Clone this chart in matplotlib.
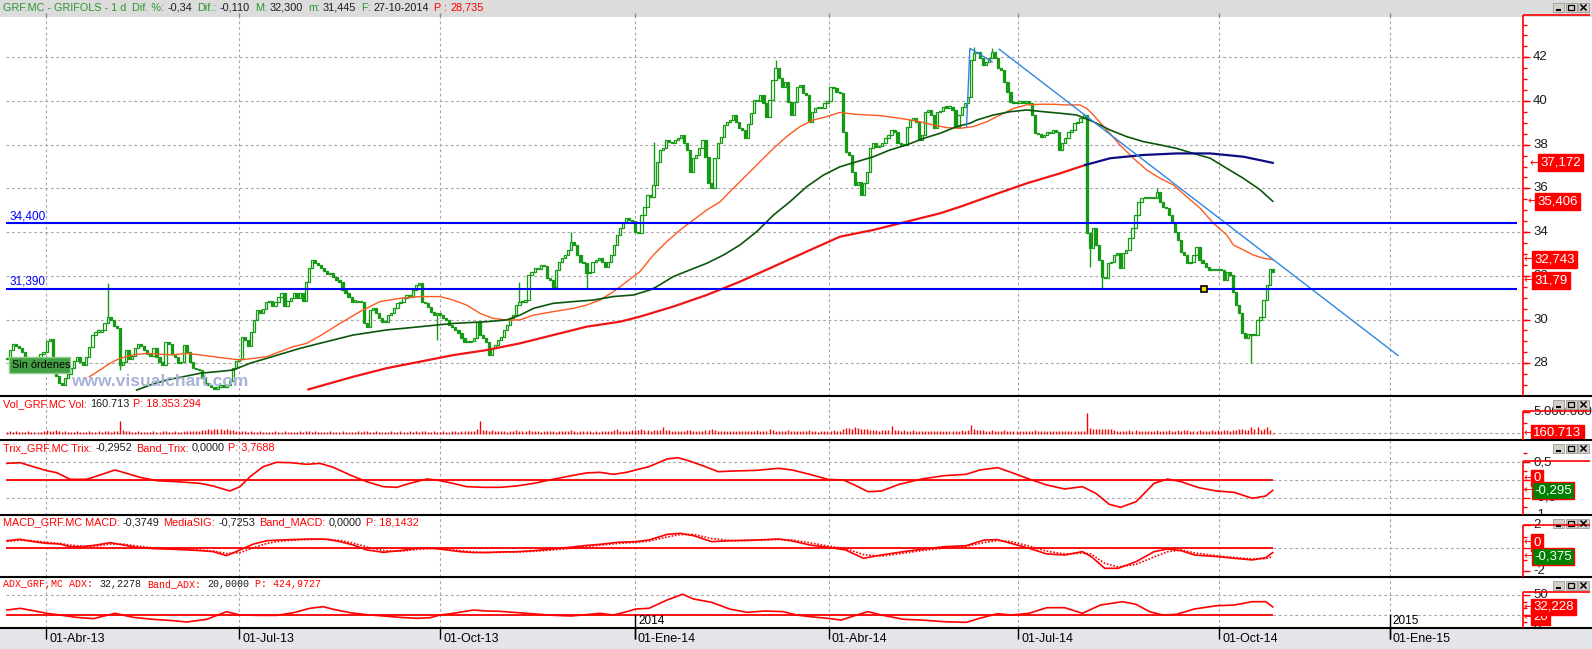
import numpy as np
import matplotlib
matplotlib.use("Agg")
import matplotlib.pyplot as plt
from matplotlib.patches import Rectangle

plt.rcParams["font.family"] = ["Liberation Sans", "DejaVu Sans"]

# ---------------- data (bar index = trading day, 0 = mid March 2013, 415 = 27-10-2014)
closes = [
    28.2, 28.6, 28.9, 28.8, 28.7, 28.5, 28.3, 28.1, 28.0, 27.9, 28.1, 28.4, 28.5, 29.0, 29.1, 28.2,
    27.4, 27.1, 27.0, 27.3, 27.5, 27.8, 28.1,
    28.30, 28.07, 27.9, 28.3, 28.75, 29.3, 29.45, 29.45, 29.5, 29.85,
    30.1, 30.0, 29.7, 29.6, 27.9, 28.07, 28.6, 28.2, 28.35, 28.7,
    28.9, 28.8, 28.6, 28.4, 28.35, 28.7, 28.3, 28.07, 27.9, 28.97,
    28.9, 28.4, 28.3, 28.0, 28.07, 28.83, 28.5, 28.07, 27.8, 27.75, 27.7,
    27.3, 27.1, 27.0, 26.9, 26.8, 26.9, 27.0, 26.9, 27.0, 27.2, 27.77, 28.1, 28.2,
    29.2, 29.05, 28.8, 29.45, 30.0, 30.43, 30.3, 30.5, 30.8, 30.85,
    30.6, 30.8, 31.05, 31.2, 30.6, 30.85, 31.0, 31.2, 31.0, 31.2,
    30.85, 31.73, 32.36, 32.73, 32.6, 32.5, 32.36, 32.2, 32.1,
    32.11, 31.96, 31.81, 31.73, 31.35, 31.2, 31.05, 30.82, 30.82, 30.79,
    30.8, 29.82, 29.67, 30.43, 30.51, 30.28, 30.05, 29.9, 29.9, 30.2,
    30.28, 30.51, 30.74, 30.8, 30.97, 31.12, 31.05, 31.35, 31.58, 31.65,
    30.82, 30.74, 30.59, 30.36, 30.2, 30.28,
    30.2, 30.05, 29.98, 29.75, 29.67, 29.52, 29.37, 29.14, 28.99, 28.97,
    29.02, 29.14, 29.9, 29.29, 29.14, 28.99, 28.37, 28.68, 28.83, 29.06,
    29.21, 29.52, 29.75, 30.05, 30.2, 30.66, 30.82, 30.8, 30.89, 32.04,
    32.19, 32.34, 32.3, 32.49, 32.45, 31.88, 31.81, 31.5, 32.27, 32.65,
    32.8, 32.95, 33.18, 33.56, 33.41, 32.95, 32.65, 32.57, 32.11, 32.19,
    32.65, 32.72, 32.8, 32.65, 32.42, 32.65, 32.95, 33.41, 33.87, 34.17,
    34.48, 34.63, 34.55, 34.5, 34.02, 33.94, 34.78, 35.16, 35.7,
    35.62, 36.16, 37.22, 37.76, 37.83, 38.21, 38.14, 38.06, 38.21, 38.29,
    38.44, 38.06, 37.76, 36.77, 37.38, 37.53, 37.83, 38.21, 37.45, 36.23,
    36.0, 37.38, 38.06, 38.37, 38.9, 39.05, 39.13, 39.36, 39.05, 38.75,
    38.67, 38.29, 38.93, 39.44, 40.05, 40.0, 40.27, 39.89, 39.28, 40.05,
    40.96, 41.5, 41.04, 40.66, 40.89, 39.97, 39.36, 39.97, 40.66, 40.73,
    40.35, 40.27, 39.05, 39.51, 39.66, 39.74, 39.66, 39.89, 40.0, 40.66,
    40.6, 40.43, 40.35, 38.6, 37.68, 37.53, 36.77, 36.16, 36.31, 35.7,
    36.23, 36.77, 37.83, 38.06, 37.91, 37.95, 38.06, 38.29, 38.44, 38.67,
    38.6, 38.06, 37.99, 38.0, 38.82, 39.13, 39.21, 39.05, 38.21, 38.44,
    39.51, 39.59, 39.36, 38.75, 39.51, 39.55, 39.74, 39.7, 39.72, 39.59,
    38.82, 39.36, 39.74, 39.89, 40.2,
    41.88, 42.18, 42.26, 41.95, 41.65, 41.8, 41.95, 42.26, 41.95, 41.5,
    41.42, 40.89, 40.43, 39.97, 39.89, 39.93, 40.0, 39.93, 40.0, 39.89,
    39.36, 38.52, 38.5, 38.37, 38.44, 38.57, 38.55, 38.67, 38.57, 37.76,
    38.06, 38.29, 38.6, 38.67, 38.98, 39.05, 39.2, 39.36, 33.94, 33.26,
    34.17, 33.41, 32.72, 31.96, 31.88, 32.57, 32.65, 32.95, 33.03, 32.34,
    33.03, 33.18, 33.71, 34.17, 34.78, 35.39, 35.55, 35.62, 35.55, 35.62,
    35.55, 35.85, 35.39, 35.16, 35.09, 34.78, 34.48, 34.02, 33.64, 33.1,
    32.95, 32.57, 32.65, 32.95, 33.33, 32.72, 32.57, 32.42, 32.27, 32.3,
    32.25, 32.3, 32.27, 31.81, 32.19, 32.04, 31.27, 30.66, 30.28, 29.37,
    29.14, 29.35, 29.29, 29.3, 29.98, 30.13, 30.89, 31.58, 32.3, 32.19,
]

# daily volume, hundreds of thousands of shares
volumes = [
    5, 6, 5, 7, 5, 4, 5, 6, 5, 5, 4, 5, 6, 8, 6, 7, 8, 6, 5, 6,
    5, 4, 5, 6, 5, 5, 4, 6, 5, 5, 6, 5, 7, 6, 5, 6, 7, 30, 9, 7,
    6, 5, 5, 6, 5, 4, 5, 5, 6, 5, 5, 6, 7, 5, 5, 6, 5, 5, 7, 6,
    6, 7, 6, 7, 9, 10, 11, 10, 12, 11, 12, 10, 11, 9, 8, 7, 6, 7, 6, 5,
    6, 5, 5, 6, 5, 5, 4, 5, 6, 5, 5, 6, 5, 4, 5, 5, 6, 5, 7, 6,
    5, 6, 5, 5, 4, 5, 6, 5, 5, 5, 6, 5, 5, 4, 5, 6, 5, 7, 6, 5,
    5, 6, 5, 4, 5, 5, 6, 5, 5, 6, 5, 5, 6, 5, 6, 5, 7, 6, 5, 5,
    6, 5, 5, 6, 5, 5, 6, 6, 5, 6, 7, 6, 6, 7, 12, 30, 9, 8, 7, 8,
    6, 6, 7, 6, 5, 6, 7, 8, 6, 6, 7, 9, 7, 6, 6, 5, 6, 7, 6, 6,
    5, 6, 6, 7, 6, 8, 6, 5, 6, 6, 7, 6, 5, 6, 5, 6, 6, 7, 6, 8,
    11, 7, 6, 7, 6, 8, 10, 9, 11, 10, 9, 7, 8, 9, 10, 17, 9, 8, 7, 7,
    6, 7, 6, 8, 9, 7, 6, 6, 7, 8, 9, 11, 8, 7, 6, 6, 7, 6, 6, 7,
    6, 6, 7, 6, 7, 6, 8, 7, 6, 6, 11, 8, 7, 6, 7, 6, 8, 7, 6, 7,
    6, 6, 7, 8, 6, 6, 5, 6, 7, 6, 7, 8, 6, 7, 12, 14, 13, 12, 15, 13,
    12, 11, 12, 10, 9, 8, 7, 9, 8, 10, 19, 9, 8, 7, 8, 7, 7, 8, 7, 6,
    6, 7, 6, 6, 7, 6, 6, 7, 6, 6, 7, 6, 7, 8, 6, 8, 21, 11, 9, 8,
    8, 7, 7, 8, 7, 6, 7, 8, 7, 6, 6, 7, 6, 7, 6, 6, 7, 8, 7, 7,
    6, 7, 6, 6, 7, 6, 7, 6, 6, 7, 6, 6, 7, 6, 47, 13, 12, 12, 11, 12,
    11, 12, 11, 8, 7, 7, 6, 7, 8, 7, 8, 6, 7, 6, 7, 6, 7, 8, 6, 7,
    7, 8, 6, 7, 8, 7, 9, 8, 7, 6, 7, 8, 7, 7, 6, 8, 7, 8, 7, 8,
    8, 7, 9, 10, 12, 11, 10, 9, 17, 11, 15, 10, 12, 17, 8, 2,
]

# notable wick extremes
wick_idx = [33, 37, 141, 168, 185, 190, 212, 252, 317, 323, 355, 359, 377, 408]
wick_val = [31.67, 27.7, 29.06, 31.73, 34.02, 31.43, 38.14, 41.88, 42.45, 42.41, 32.42, 31.43, 36.0, 27.99]

# moving averages
ma_fast_idx = [27, 30.5, 33.8, 37, 41.4, 45.8, 50.2, 54.5, 58.9, 63.3, 67.6, 72, 76.4, 80.8, 85.2, 89.5,
               93.9, 98.3, 102.6, 109.2, 115.7, 122.3, 128.9, 135.4, 142, 146.3, 150.7, 155.1, 159.4,
               163.8, 168.2, 172.6, 179.1, 185.7, 190, 194.4, 198.8, 203.2, 207.5, 211.9, 216.3, 220.7,
               225, 229.4, 233.8, 238.1, 242.5, 246.9, 251.3, 255.6, 260, 264.4, 268.7, 273.1, 277.5,
               281.9, 286.2, 290.6, 295, 299.3, 303.7, 308.1, 312.5, 316.8, 321.2, 325.6, 330, 334.3,
               338.7, 343.1, 347.5, 351.8, 354, 356.2, 360.6, 364.9, 369.3, 373.7, 378.1, 382.4, 386.8,
               391.2, 395.6, 399.9, 402.1, 405.4, 408.7, 412, 415]
ma_fast_val = [27.38, 27.69, 28.0, 28.22, 28.38, 28.45, 28.41, 28.38, 28.45, 28.38, 28.3, 28.22, 28.15,
               28.22, 28.3, 28.53, 28.76, 28.91, 29.25, 29.82, 30.36, 30.82, 30.97, 31.05, 31.05, 30.89,
               30.66, 30.28, 30.05, 29.98, 29.98, 30.2, 30.36, 30.51, 30.66, 30.89, 31.27, 31.73, 32.19,
               32.95, 33.56, 34.1, 34.55, 35.01, 35.39, 36.0, 36.61, 37.22, 37.83, 38.37, 38.83, 39.13,
               39.28, 39.48, 39.4, 39.36, 39.33, 39.25, 39.16, 39.05, 38.9, 38.78, 38.75, 38.83, 39.05,
               39.36, 39.66, 39.82, 39.85, 39.85, 39.82, 39.82, 39.66, 39.36, 38.67, 37.99, 37.38, 36.84,
               36.46, 36.16, 35.62, 35.09, 34.4, 33.87, 33.41, 33.18, 32.95, 32.8, 32.74]

ma_mid_idx = [42.5, 46.9, 52.3, 57.8, 63.3, 68.7, 74.2, 79.7, 85.1, 90.6, 96.1, 102.6, 113.5, 124.4,
              135.4, 146.3, 157.2, 163.8, 168.2, 172.6, 179.1, 185.7, 192.2, 198.8, 205.3, 210.8, 213,
              218.4, 223.9, 229.4, 234.9, 240.3, 245.8, 251.3, 256.7, 262.2, 267.7, 273.1, 278.6, 284.1,
              289.5, 295, 300.5, 305.9, 311.4, 315.7, 318, 323.4, 328.9, 334.3, 339.8, 345.3, 350.7,
              356.2, 361.7, 367.1, 372.6, 378.1, 383.5, 389, 394.5, 399.9, 405.4, 410.9, 415]
ma_mid_val = [26.77, 27.0, 27.23, 27.38, 27.54, 27.61, 27.69, 28.0, 28.22, 28.45, 28.68, 28.91, 29.29,
              29.52, 29.67, 29.82, 29.9, 29.98, 30.2, 30.51, 30.74, 30.82, 30.89, 31.05, 31.12, 31.35,
              31.5, 31.96, 32.27, 32.57, 32.95, 33.41, 34.02, 34.78, 35.39, 36.08, 36.61, 36.99, 37.22,
              37.45, 37.76, 37.99, 38.29, 38.52, 38.83, 38.98, 39.13, 39.36, 39.51, 39.59, 39.51, 39.44,
              39.36, 39.05, 38.67, 38.37, 38.14, 37.99, 37.83, 37.6, 37.38, 36.92, 36.46, 35.93, 35.41]

ma_slow_idx = [98.8, 102.6, 113.5, 124.4, 135.4, 146.3, 157.2, 168.2, 179.1, 190, 201, 207.5, 218.4,
               229.4, 240.3, 251.3, 262.2, 273.1, 284.1, 295, 305.9, 312.5, 323.4, 334.3, 345.3, 353.5]
ma_slow_val = [26.8, 26.95, 27.38, 27.77, 28.07, 28.37, 28.6, 28.91, 29.29, 29.67, 29.9, 30.13, 30.59,
               31.12, 31.73, 32.42, 33.11, 33.79, 34.1, 34.48, 34.86, 35.16, 35.7, 36.23, 36.69, 37.07]
ma_slow_dn_idx = [353.5, 361.7, 372.6, 383.5, 394.5, 405.4, 415]
ma_slow_dn_val = [37.07, 37.38, 37.53, 37.6, 37.6, 37.45, 37.17]

# drawn objects
trend_idx = [325.3, 456.1]
trend_val = [42.37, 28.35]
trend2_idx = [314.6, 315.7, 322.95]
trend2_val = [38.82, 42.41, 41.8]
levels = [34.4, 31.39]
level_labels = ["34,400", "31,390"]
order_idx, order_val = 392.5, 31.39

# indicators
trix_idx = [0, 4.3, 8.6, 13, 16.3, 20.7, 26.1, 30.5, 35.4, 39.2, 43.6, 49.1, 55.6, 63.3, 67.6, 73.1,
            76.4, 79.7, 84, 88.4, 92.8, 98.3, 102.6, 107, 112.5, 117.9, 123.4, 127.8, 132.1, 137.6,
            140.9, 145.2, 150.7, 156.2, 161.6, 167, 173, 179, 185, 190, 194.4, 198.8, 203.2, 206.1,
            210.5, 216.4, 220, 223.7, 228.1, 233.2, 238.3, 245.7, 253, 257.4, 263.2, 269.1, 274.2,
            277.9, 282.3, 286.7, 292.5, 299.9, 307.2, 314.5, 318.9, 324.8, 329.2, 335.1, 340.9, 346.8,
            352.6, 357, 361.4, 365.1, 370.2, 376.1, 380.5, 384.9, 390.7, 396.6, 402.4, 408.3, 412.7, 415]
trix_val = [0.47, 0.49, 0.377, 0.264, 0.207, 0.019, 0.019, 0.141, 0.283, 0.188, 0.075, -0.019, -0.047,
            -0.094, -0.17, -0.311, -0.188, 0.094, 0.377, 0.5, 0.49, 0.443, 0.47, 0.358, 0.141, -0.047,
            -0.188, -0.207, -0.094, 0.028, 0.0, -0.075, -0.188, -0.207, -0.207, -0.17, -0.09, 0.02,
            0.12, 0.2, 0.217, 0.16, 0.217, 0.283, 0.377, 0.593, 0.631, 0.537, 0.405, 0.235, 0.254,
            0.273, 0.33, 0.283, 0.16, 0.019, 0.0, -0.141, -0.33, -0.311, -0.122, 0.028, 0.122, 0.16,
            0.283, 0.349, 0.217, 0.028, -0.141, -0.254, -0.188, -0.377, -0.687, -0.772, -0.612, -0.094,
            0.028, -0.047, -0.216, -0.311, -0.349, -0.518, -0.452, -0.295]

macd_idx = [0, 4.3, 8.6, 13, 17.4, 20.7, 25, 29.4, 33.8, 38.1, 42.5, 48, 55.6, 63.3, 67.6, 72, 76.4,
            80.8, 85.2, 89.5, 96.1, 100.4, 104.8, 109.2, 113.5, 117.9, 123.4, 128.9, 134.3, 139.8,
            144.2, 148.5, 152.9, 157.3, 161.6, 167, 173, 179, 185, 190, 194.4, 200.3, 206.1, 210.5,
            216.4, 220.7, 225.1, 231, 238.3, 245.7, 253, 257.4, 263.2, 269.1, 274.9, 280.8, 286.7, 294,
            299.9, 307.2, 314.5, 320.4, 324.8, 329.2, 335.1, 340.9, 346.8, 352.6, 355.5, 359.9, 364.3,
            370.2, 376.1, 380.5, 384.9, 389.3, 396.6, 402.4, 408.3, 412.7, 415]
macd_val = [0.66, 0.78, 0.58, 0.43, 0.37, 0.14, 0.14, 0.29, 0.49, 0.29, 0.08, -0.03, -0.09, -0.2, -0.29,
            -0.64, -0.14, 0.37, 0.66, 0.72, 0.78, 0.81, 0.78, 0.58, 0.29, -0.14, -0.35, -0.2, 0.0, 0.0,
            -0.14, -0.29, -0.37, -0.37, -0.32, -0.3, -0.2, -0.05, 0.1, 0.25, 0.345, 0.52, 0.58, 0.72,
            1.21, 1.3, 1.1, 0.58, 0.67, 0.72, 0.81, 0.64, 0.29, 0.09, -0.14, -0.87, -0.58, -0.29, -0.09,
            0.14, 0.23, 0.72, 0.75, 0.43, 0.0, -0.49, -0.58, -0.29, -0.72, -1.74, -1.74, -1.16, -0.29,
            -0.06, -0.2, -0.58, -0.72, -0.87, -1.01, -0.81, -0.375]
macd_sig = [0.6, 0.7, 0.65, 0.52, 0.42, 0.28, 0.18, 0.2, 0.36, 0.36, 0.2, 0.04, -0.05, -0.15, -0.24,
            -0.45, -0.38, 0.05, 0.42, 0.62, 0.74, 0.78, 0.79, 0.68, 0.45, 0.12, -0.2, -0.26, -0.1,
            -0.02, -0.08, -0.2, -0.32, -0.36, -0.35, -0.32, -0.26, -0.14, 0.0, 0.15, 0.27, 0.42, 0.52,
            0.63, 0.98, 1.2, 1.2, 0.85, 0.65, 0.7, 0.77, 0.72, 0.48, 0.2, -0.02, -0.55, -0.68, -0.42,
            -0.2, 0.02, 0.18, 0.5, 0.68, 0.58, 0.2, -0.25, -0.5, -0.42, -0.5, -1.3, -1.62, -1.4, -0.75,
            -0.3, -0.15, -0.4, -0.65, -0.8, -0.93, -0.9, -0.725]

adx_idx = [0, 4.3, 8.6, 13, 17.4, 22.8, 28.3, 35.4, 41.4, 48, 54.5, 58.9, 65.5, 72, 76.4, 83, 88.4,
           93.9, 99.3, 103.7, 107, 112.5, 117.9, 123.4, 128.9, 134.3, 138.7, 142, 146.3, 152.9, 157.3,
           161.6, 167, 173, 179, 185, 190, 194.4, 198.8, 203.2, 206.1, 210.5, 216.4, 221.5, 225.1, 231,
           236.9, 242.7, 248.6, 254.5, 258.9, 263.2, 269.1, 273.5, 277.9, 282.3, 286.7, 294, 299.9,
           307.2, 314.5, 318.9, 324.8, 329.2, 335.1, 340.9, 346.8, 352.6, 358.5, 365.8, 370.2, 374.6,
           379, 383.4, 389.3, 396.6, 402.4, 408.3, 412.7, 415]
adx_val = [27.7, 30.2, 26.8, 22.9, 20.4, 17, 15.1, 22.9, 17, 14.1, 12.2, 10.2, 14.1, 25.3, 20.4, 19.9,
           19.9, 23.8, 30.2, 32.6, 28.7, 23.8, 20.9, 19, 17, 15.6, 16.5, 20.4, 22.9, 27.7, 26.3, 25.8,
           24, 22, 20, 19, 21, 22.9, 20.4, 25.3, 29.2, 30.2, 42.3, 50.7, 43.8, 39, 29.2, 24.3, 26.3,
           25.3, 20.4, 18, 15.6, 13.1, 19.4, 25.3, 20.4, 14.1, 13.1, 10.7, 9.7, 15.6, 22.4, 20.4, 22.9,
           31.1, 31.1, 22.9, 35, 39.9, 36, 25.3, 20.4, 21.4, 29.2, 34, 35, 39.9, 39.9, 32.23]

quarter_pos = [12.8, 76.1, 142.0, 205.9, 269.5, 331.5, 397.4, 453.4]
quarter_lbl = ["01-Abr-13", "01-Jul-13", "01-Oct-13", "01-Ene-14", "01-Abr-14", "01-Jul-14",
               "01-Oct-14", "01-Ene-15"]

# ---------------- layout
W, H = 1592, 649
X0, DX = 7.0, 3.05
GREEN = "#169a16"
RED = "#ff0000"
GRID = "#a9a5ad"
DARK = "#1c1c24"
HGREEN = "#2c962c"
AXIS_PX = 1522.7


def ix(px):
    return (px - X0) / DX


fig = plt.figure(figsize=(W / 100, H / 100), dpi=100)
fig.patch.set_facecolor("white")
rend = fig.canvas.get_renderer()


def panel(top, bot, f):
    ax = fig.add_axes([0, 1 - bot / H, 1, (bot - top) / H])
    ax.set_xlim(ix(0), ix(W))
    ax.set_ylim(f(bot), f(top))
    ax.axis("off")
    for q in quarter_pos:
        ax.axvline(q, color=GRID, lw=0.8, ls=(0, (2.5, 2.5)), zorder=0)
    return ax


def hgrid(ax, vals):
    ax.hlines(vals, ix(6), ix(AXIS_PX), color=GRID, lw=0.8, ls=(0, (2.5, 2.5)), zorder=0)


def rticks(ax, major, minor, labels):
    ax.hlines(minor, ix(AXIS_PX), ix(1526.5), color=RED, lw=1, zorder=5)
    ax.hlines(major, ix(AXIS_PX), ix(1530), color=RED, lw=1, zorder=5)
    for v, s in zip(major, labels):
        if s:
            ax.text(ix(1533), v, s, fontsize=9.5, color=DARK, va="center", ha="left",
                    clip_on=True, zorder=6)


def vbox(ax, v, s, fc, xpx, arrow_px=1524):
    ax.text(ix(arrow_px), v, "\u2190", fontsize=8, color=RED, va="center", ha="left",
            family="DejaVu Sans", zorder=7, clip_on=True)
    ax.text(ix(xpx), v, s, fontsize=9.5, color="white", va="center", ha="left", zorder=8,
            clip_on=True, bbox=dict(boxstyle="square,pad=0.18", fc=fc, ec=RED, lw=1))


# price panel
pv = lambda y: 42 - (y - 57.3) / 21.85
axp = panel(17, 396, pv)
hgrid(axp, np.arange(28, 43, 2))
c = np.array(closes)
o = np.r_[c[0], c[:-1]]
x = np.arange(len(c))
lo, hi = np.minimum(o, c), np.maximum(o, c)
hgt = np.maximum(hi - lo, 0.05)
for j, v in zip(wick_idx, wick_val):
    axp.vlines(j, min(v, lo[j]), max(v, hi[j]), color=GREEN, lw=1, zorder=3)
up = c >= o
axp.bar(x[up], hgt[up], bottom=lo[up], width=0.75, facecolor="white", edgecolor=GREEN,
        linewidth=0.9, zorder=4)
axp.bar(x[~up], hgt[~up], bottom=lo[~up], width=0.75, facecolor=GREEN, edgecolor=GREEN,
        linewidth=0.9, zorder=4)
axp.plot(ma_fast_idx, ma_fast_val, color="#ff5a1e", lw=1.0, zorder=5)
axp.plot(ma_mid_idx, ma_mid_val, color="#0c560c", lw=1.2, zorder=5)
axp.plot(ma_slow_idx, ma_slow_val, color="#f01414", lw=1.6, zorder=5)
axp.plot(ma_slow_dn_idx, ma_slow_dn_val, color="#0c0c82", lw=1.6, zorder=5)
axp.plot(trend_idx, trend_val, color="#2f86e0", lw=1.0, zorder=6)
axp.plot(trend2_idx, trend2_val, color="#2f86e0", lw=1.0, zorder=6)
axp.hlines(levels, ix(6), ix(1517), color="#0000ff", lw=1.5, zorder=6)
for lv, s in zip(levels, level_labels):
    axp.text(ix(10), lv + 0.33, s, fontsize=8.5, color="#0000ff", va="center", ha="left")
axp.plot(order_idx, order_val, marker="s", ms=4.5, mfc="#ffd800", mec="black", mew=1.2, zorder=7)
rticks(axp, list(range(28, 45, 2)), list(np.arange(27, 44, 0.5)),
       [str(v) for v in range(28, 45, 2)])
vbox(axp, 37.172, "37,172", RED, 1540, 1529)
vbox(axp, 35.406, "35,406", RED, 1537, 1527)
vbox(axp, 32.743, "32,743", RED, 1534)
vbox(axp, 31.79, "31,79", RED, 1534)

# volume panel
vv = lambda y: (434 - y) / 0.44
axv = panel(396, 440, vv)
hgrid(axv, [1.607])
axv.vlines(np.arange(len(volumes)), 0, volumes, color=RED, lw=1, zorder=3)
rticks(axv, [50], [25], ["5.000.000"])
vbox(axv, 2.3, "160.713", RED, 1533)

# trix panel
tv = lambda y: (480 - y) / 35.4
axt = panel(440, 515, tv)
hgrid(axt, [0.5, 0, -0.5])
axt.hlines(0, ix(6), len(c) - 1, color=RED, lw=1.3, zorder=3)
axt.plot(trix_idx, trix_val, color=RED, lw=1.2, zorder=4)
rticks(axt, [0.5, 0, -0.5, -1], [0.75, 0.25, -0.25, -0.75], ["0,5", "", "-0,5", "-1"])
vbox(axt, 0.06, "0", RED, 1533)
vbox(axt, -0.295, "-0,295", "#008000", 1534)

# macd panel
mv = lambda y: (548.3 - y) / 11.5
axm = panel(515, 577, mv)
hgrid(axm, [0])
axm.hlines(0, ix(6), len(c) - 1, color=RED, lw=1.3, zorder=3)
axm.plot(macd_idx, macd_val, color=RED, lw=1.2, zorder=4)
axm.plot(macd_idx, macd_sig, color=RED, lw=1.2, ls=(0, (1, 1)), zorder=4)
rticks(axm, [2, 0, -2], [1, -1], ["2", "", "-2"])
vbox(axm, 0.5, "0", RED, 1533)
vbox(axm, -0.71, "-0,375", "#008000", 1534)

# adx panel
av = lambda y: (629 - y) / 0.685
axa = panel(577, 628, av)
hgrid(axa, [50, 20])
axa.hlines(20, ix(6), len(c) - 1, color=RED, lw=1.3, zorder=3)
axa.plot(adx_idx, adx_val, color=RED, lw=1.2, zorder=4)
rticks(axa, [50, 20, 0], [40, 30, 10], ["50", "20", "0"])
vbox(axa, 17.5, "20", RED, 1533)
vbox(axa, 32.228, "32,228", RED, 1533)

# ---------------- pixel overlay (frames, header, captions)
ov = fig.add_axes([0, 0, 1, 1])
ov.set_xlim(0, W)
ov.set_ylim(H, 0)
ov.axis("off")

ov.add_patch(Rectangle((0, 0), W, 16.5, fc="#dcdcdc", ec="none"))
ov.add_patch(Rectangle((0, 628), W, 21, fc="#e3e5eb", ec="none"))
ov.hlines([396, 440, 515, 577, 628], 0, W, color="black", lw=1.5)
for top, bot in [(15, 396), (411, 440), (461, 515), (525, 577), (592, 628)]:
    ov.vlines(AXIS_PX, top, bot, color=RED, lw=1.2)
    ov.hlines(top, AXIS_PX, 1590, color=RED, lw=1.2)

# window buttons
for y0 in [3, 400, 444, 519, 581]:
    for k in range(3):
        bx = 1553 + 12.5 * k
        ov.add_patch(Rectangle((bx, y0), 11, 9, fc="#d4d0c8", ec="#9a9a9a", lw=0.6))
        if k == 0:
            ov.hlines(y0 + 7, bx + 3, bx + 8, color="black", lw=1.5)
        elif k == 1:
            ov.add_patch(Rectangle((bx + 2.5, y0 + 2), 6, 5, fill=False, ec="black", lw=0.9))
        else:
            ov.plot([bx + 3, bx + 8], [y0 + 2, y0 + 7], color="black", lw=1.1)
            ov.plot([bx + 3, bx + 8], [y0 + 7, y0 + 2], color="black", lw=1.1)


def caption(y, parts, size, fam=None, x0=3.0):
    # colored pieces laid out one after another
    xx = x0
    for s, col, gap in parts:
        kw = {"family": fam} if fam else {}
        t = ov.text(xx, y, s, color=col, fontsize=size, va="center", ha="left", **kw)
        xx += t.get_window_extent(renderer=rend).width + gap


caption(8, [("GRF.MC - GRIFOLS - 1 d", HGREEN, 6), ("Dif. %:", HGREEN, 3), ("-0,34", DARK, 5),
            ("Dif.:", HGREEN, 3), ("-0,110", DARK, 5), ("M:", HGREEN, 3), ("32,300", DARK, 5),
            ("m:", HGREEN, 3), ("31,445", DARK, 5), ("F:", HGREEN, 3), ("27-10-2014", DARK, 5),
            ("P :", RED, 3), ("28,735", RED, 0)], 7.8)
caption(404, [("Vol_GRF.MC Vol:", RED, 3), ("160.713", DARK, 4), ("P: 18.353.294", RED, 0)], 7.8)
caption(448, [("Trix_GRF.MC Trix:", RED, 3), ("-0,2952", DARK, 4), ("Band_Trix:", RED, 3),
              ("0,0000", DARK, 4), ("P: 3,7688", RED, 0)], 7.8)
caption(522.5, [("MACD_GRF.MC MACD:", RED, 3), ("-0,3749", DARK, 4), ("MediaSIG:", RED, 3),
                ("-0,7253", DARK, 4), ("Band_MACD:", RED, 3), ("0,0000", DARK, 4),
                ("P: 18,1432", RED, 0)], 7.8)
caption(584, [("ADX_GRF,MC ADX:", RED, 6), ("32,2278", DARK, 6), ("Band_ADX:", RED, 6),
              ("20,0000", DARK, 6), ("P: 424,9727", RED, 0)], 7.2, "Liberation Mono")

# date axis
for q, s in zip(quarter_pos, quarter_lbl):
    px = X0 + DX * q
    ov.vlines(px, 628, 639, color="black", lw=1)
    ov.vlines(px, 13, 17, color="#888888", lw=1)
    ov.text(px + 3, 639.5, s, fontsize=9, color="black", va="center", ha="left")
for q, s in [(quarter_pos[3], "2014"), (quarter_pos[7], "2015")]:
    px = X0 + DX * q
    ov.vlines(px, 614, 639, color="black", lw=1)
    ov.text(px + 3, 621, s, fontsize=8.5, color="black", va="center", ha="left")

# order status tag and watermark
ov.add_patch(Rectangle((9, 357), 61, 16, fc="#43a043", ec="#8fd08f", lw=1))
ov.text(11.5, 365.5, "Sin \u00f3rdenes", fontsize=7.8, color="black", va="center", ha="left")
ov.text(160, 381, "www.visualchart.com", fontsize=12.5, fontweight="bold", color="#a9b2d8",
        va="center", ha="center")

fig.savefig("out.png", dpi=100)
